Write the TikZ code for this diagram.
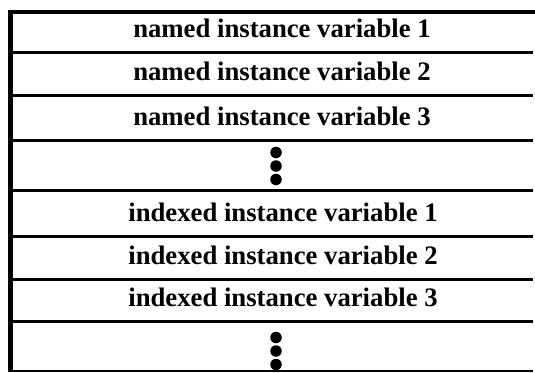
\documentclass[tikz,border=0pt]{standalone}
\usepackage{fontspec}
\setmainfont{Liberation Serif}
\usetikzlibrary{positioning}

\begin{document}
\begin{tikzpicture}[x=1bp,y=-1bp,
    rowtext/.style={anchor=base,inner sep=0pt,font=\bfseries\fontsize{26.7bp}{30bp}\selectfont},
    sep/.style={line width=3bp},
    dot/.style={circle,fill=black,inner sep=0pt,minimum size=11.5bp}]
  \useasboundingbox (0,0) rectangle (535,372);
  % frame
  \draw[line width=5bp](10,10.5)--(10,372);
  \draw[line width=3.5bp](8,12)--(535,12);
  \draw[sep](10,52)--(533,52);
  \draw[sep](10,95)--(533,95);
  \draw[sep](10,140)--(533,140);
  \draw[sep](10,190)--(533,190);
  \draw[sep](10,236)--(533,236);
  \draw[sep](10,279)--(533,279);
  \draw[sep](10,321)--(533,321);
  \draw[line width=2bp](10,371)--(533,371);
  % named variables
  \node[rowtext] (named1) at (282,37.5){named instance variable 1};
  \node[rowtext] (named2) at (282,80){named instance variable 2};
  \node[rowtext] (named3) at (282,125){named instance variable 3};
  \node[dot] (ndotA) at (276,152.5){};
  \node[dot] (ndotB) at (276,166){};
  \node[dot] (ndotC) at (276,179.5){};
  % indexed variables
  \node[rowtext] (indexed1) at (283,221){indexed instance variable 1};
  \node[rowtext] (indexed2) at (283,264){indexed instance variable 2};
  \node[rowtext] (indexed3) at (283,306){indexed instance variable 3};
  \node[dot] (idotA) at (276,337.5){};
  \node[dot] (idotB) at (276,351){};
  \node[dot] (idotC) at (276,364.5){};
\end{tikzpicture}
\end{document}
